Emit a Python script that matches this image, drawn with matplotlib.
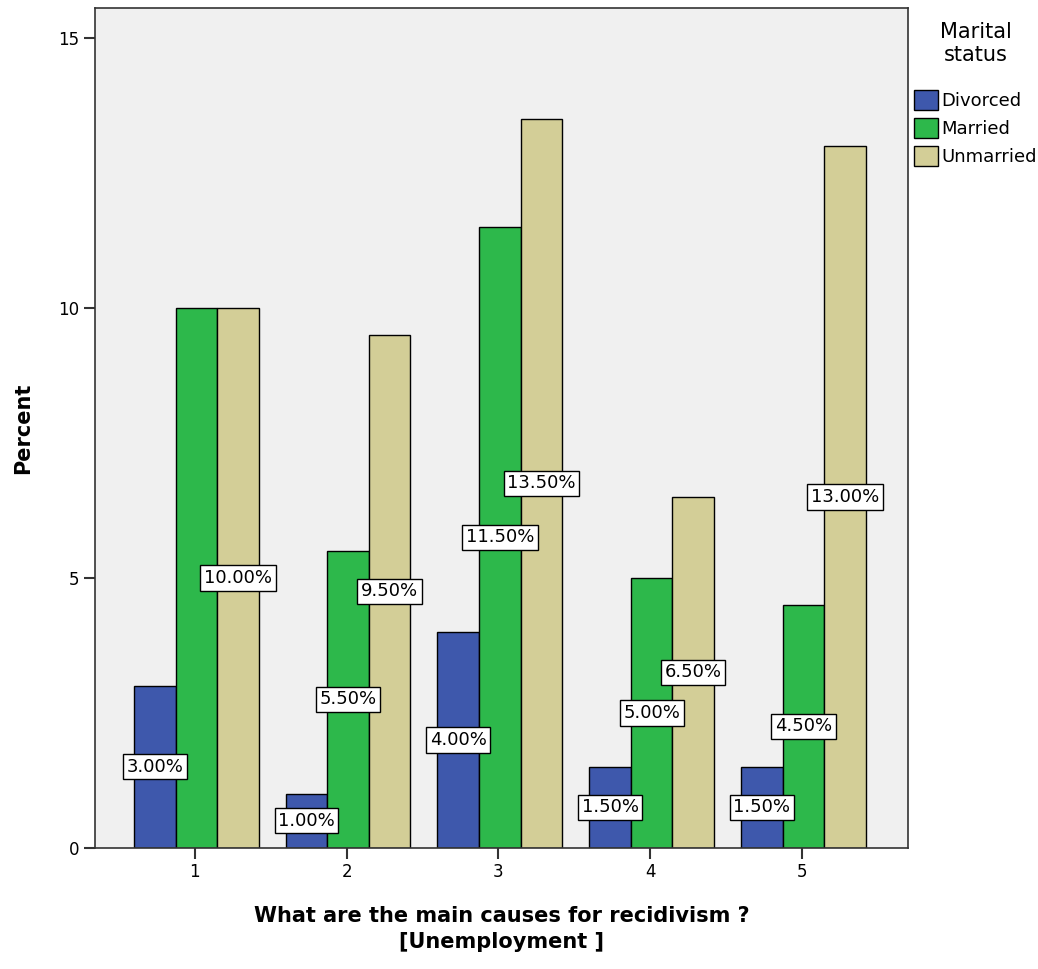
import matplotlib
matplotlib.use("Agg")
import matplotlib.pyplot as plt
import numpy as np

categories = ["1", "2", "3", "4", "5"]
divorced = [3.0, 1.0, 4.0, 1.5, 1.5]
married = [10.0, 5.5, 11.5, 5.0, 4.5]
unmarried = [10.0, 9.5, 13.5, 6.5, 13.0]
series_names = ["Divorced", "Married", "Unmarried"]
colors = ["#3e58ac", "#2db84b", "#d3ce97"]

fig = plt.figure(figsize=(10.38, 9.69), dpi=100)
ax = fig.add_axes([0.0915, 0.125, 0.7833, 0.867])
ax.set_facecolor("#f0f0f0")

x = np.arange(1, len(categories) + 1)
w = 0.274
all_series = [divorced, married, unmarried]
for i, (vals, name, c) in enumerate(zip(all_series, series_names, colors)):
    ax.bar(x + (i - 1) * w + 0.01, vals, width=w, color=c, edgecolor="black",
           linewidth=1, label=name, zorder=2)

# value labels at half height; skip a label hidden under the next one
for i, vals in enumerate(all_series):
    for j, v in enumerate(vals):
        if i < 2 and all_series[i + 1][j] == v:
            continue
        ax.text(x[j] + (i - 1) * w + 0.01, v / 2, f"{v:.2f}%", ha="center", va="center",
                fontsize=13, zorder=5,
                bbox=dict(boxstyle="square,pad=0.2", facecolor="white",
                          edgecolor="black", linewidth=1))

ax.set_xlim(0.342, 5.70)
ax.set_ylim(0, 15.56)
ax.set_xticks(x)
ax.set_xticklabels(categories, fontsize=12)
ax.set_yticks([0, 5, 10, 15])
ax.set_yticklabels(["0", "5", "10", "15"], fontsize=12)
ax.tick_params(direction="out", length=8, width=1.5, color="#333333", pad=3)
for s in ax.spines.values():
    s.set_color("#333333")
    s.set_linewidth(1.2)

ax.set_ylabel("Percent", fontsize=15, fontweight="bold", labelpad=18)
ax.set_xlabel("What are the main causes for recidivism ?\n[Unemployment ]",
              fontsize=15, fontweight="bold", labelpad=18, linespacing=1.35)

handles, labels = ax.get_legend_handles_labels()
leg = fig.legend(handles, labels, title="Marital\nstatus", loc="upper left",
                 bbox_to_anchor=(0.874, 0.985), frameon=False, fontsize=13,
                 title_fontsize=15, handlelength=1.3, handleheight=1.3,
                 handletextpad=0.2, labelspacing=0.45, borderaxespad=0)
leg.get_title().set_multialignment("center")
leg._legend_box.sep = 18

fig.savefig("out.png", dpi=100)
